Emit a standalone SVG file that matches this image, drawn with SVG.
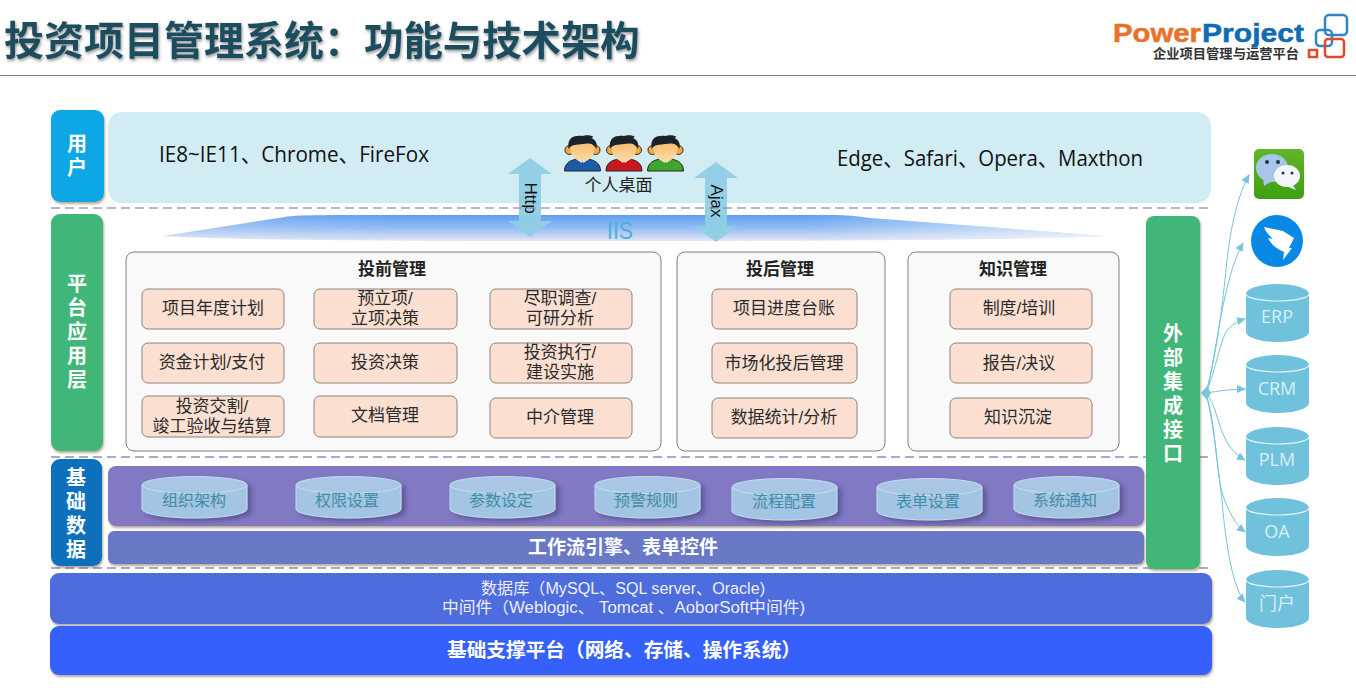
<svg xmlns="http://www.w3.org/2000/svg" width="1356" height="691" viewBox="0 0 1356 691">
<style>
text{font-family:"Liberation Sans","Noto Sans CJK SC",sans-serif}
.lat{font-family:"Open Sans","Noto Sans CJK SC",sans-serif}
.c{text-anchor:middle}
.side{fill:#fff;font-weight:700;font-size:20px;text-anchor:middle}
.box{fill:#fbe0d2;stroke:#8d827c;stroke-width:1}
.bt{font-size:17px;fill:#2a2a2a;text-anchor:middle}
.panel{fill:#f9f9f9;stroke:#7f7f7f;stroke-width:1}
.pt{font-size:17px;font-weight:700;fill:#222;text-anchor:middle}
.cy{font-size:16px;fill:#3f8da8;text-anchor:middle}
.ext{font-size:18px;fill:#d8eff6;text-anchor:middle;font-family:"Open Sans","Noto Sans CJK SC",sans-serif}
.dash{stroke:#8f8fb8;stroke-width:1.6;stroke-dasharray:9 5;fill:none}
.conn{stroke:#75c5dc;stroke-width:1;fill:none;marker-end:url(#ah)}
</style>
<defs>
<marker id="ah" markerWidth="10" markerHeight="10" refX="8" refY="4" orient="auto" markerUnits="userSpaceOnUse"><path d="M0 0L9 4L0 8Z" fill="#75c5dc"/></marker>
<linearGradient id="iis" x1="0" y1="0" x2="0" y2="1"><stop offset="0" stop-color="#5f9ff0"/><stop offset=".5" stop-color="#92bcf2"/><stop offset="1" stop-color="#e3e4f5"/></linearGradient>
<linearGradient id="iisfade" x1="0" y1="0" x2="1" y2="0"><stop offset="0" stop-color="#fff" stop-opacity=".2"/><stop offset=".25" stop-color="#fff" stop-opacity="0"/><stop offset=".68" stop-color="#fff" stop-opacity="0"/><stop offset="1" stop-color="#fff" stop-opacity=".65"/></linearGradient>
<linearGradient id="wg" x1="0" y1="0" x2="0" y2="1"><stop offset="0" stop-color="#62b52a"/><stop offset="1" stop-color="#3f9f12"/></linearGradient>
<linearGradient id="face" x1="0" y1="0" x2="0" y2="1"><stop offset="0" stop-color="#f5b45e"/><stop offset="1" stop-color="#fbdca8"/></linearGradient>
<filter id="sh" x="-10%" y="-10%" width="120%" height="130%"><feDropShadow dx="1" dy="2" stdDeviation="1.2" flood-color="#6b5436" flood-opacity=".5"/></filter>
<filter id="cs" x="-10%" y="-20%" width="125%" height="150%"><feDropShadow dx="4" dy="3" stdDeviation="2.5" flood-color="#3f3a70" flood-opacity=".55"/></filter>
<filter id="ts" x="-5%" y="-10%" width="110%" height="130%"><feDropShadow dx="1" dy="2" stdDeviation="1.5" flood-color="#333" flood-opacity=".5"/></filter>
<g id="small"><path d="M0 9V33A52.500 9 0 0 0 105 33V9Z" fill="#a3c4e2" stroke="#c5dcf0" stroke-width="1"/><ellipse cx="52.500" cy="9" rx="52.500" ry="8.500" fill="#a9c7e4" stroke="#c5dcf0" stroke-width="1"/></g>
<g id="big"><path d="M0 10V48A31.500 10 0 0 0 63 48V10Z" fill="#70c2dc"/><ellipse cx="31.500" cy="10" rx="31.500" ry="10" fill="#70c2dc"/><path d="M0 10A31.500 7 0 0 0 63 10" fill="none" stroke="#e4f4f9" stroke-width="1.200"/></g>
<g id="person"><path d="M-18 35C-18 27 -12 24 -5 23H5C12 24 18 27 18 35Z" fill="currentColor" stroke="#222" stroke-width="1"/><path d="M-6 23L-1 27L0 25L1 27L6 23L0 21Z" fill="#eee"/><circle cx="-13" cy="14" r="4.500" fill="#f0a848" stroke="#3a2a10" stroke-width="1"/><circle cx="13" cy="14" r="4.500" fill="#f0a848" stroke="#3a2a10" stroke-width="1"/><ellipse cx="0" cy="13" rx="12" ry="12.500" fill="url(#face)"/><path d="M-14 13C-16 0 -6 -1 0 0C3 -1 9 -1 11 1L9 2C14 4 15 9 14 13C11 7 6 7 0 8C-6 9 -11 8 -14 13Z" fill="#1c2228"/></g>
</defs>

<g id="header">
<text x="4" y="55" font-size="40" font-weight="700" fill="#1f4e5f" filter="url(#ts)">投资项目管理系统：<tspan x="364" font-size="39.400">功能与技术架构</tspan></text>
<line x1="0" y1="75.500" x2="1356" y2="75.500" stroke="#808080" stroke-width="1"/>
</g>
<g id="logo">
<text x="1113" y="42" font-size="26" font-weight="700" fill="#e8722a" stroke="#e8722a" stroke-width=".5" textLength="88" lengthAdjust="spacingAndGlyphs">Power</text>
<text x="1202" y="42" font-size="26" font-weight="700" fill="#0f6cb2" stroke="#0f6cb2" stroke-width=".5" textLength="102" lengthAdjust="spacingAndGlyphs">Project</text>
<text x="1153" y="58" font-size="13" font-weight="700" fill="#333" textLength="146" lengthAdjust="spacingAndGlyphs">企业项目管理与运营平台</text>
<g fill="none" stroke-width="2.500"><rect x="1325" y="15" width="22" height="20" rx="4" stroke="#2f85c5"/><rect x="1316" y="30" width="16" height="16" rx="4" stroke="#2f85c5"/><rect x="1325" y="39" width="19" height="18" rx="3" stroke="#e1492c"/><rect x="1309" y="50" width="8" height="7" stroke="#e1492c"/></g>
</g>

<g id="layer-user">
<rect x="108" y="112" width="1103" height="91" rx="14" fill="#d2ecf4"/>
<rect x="51" y="110" width="53" height="92" rx="9" fill="#0ea7e6" filter="url(#sh)"/>
<text class="side"><tspan x="77" y="151">用</tspan><tspan x="77" y="175">户</tspan></text>
<text x="159" y="162" font-size="22" class="lat" fill="#111" textLength="270" lengthAdjust="spacingAndGlyphs">IE8~IE11、Chrome、FireFox</text>
<text x="837" y="166" font-size="22" class="lat" fill="#111" textLength="306" lengthAdjust="spacingAndGlyphs">Edge、Safari、Opera、Maxthon</text>
</g>
<g id="users" transform="translate(0,136)">
<use href="#person" x="582.500" color="#1d5aa8"/><use href="#person" x="624" color="#c8181e"/><use href="#person" x="665.500" color="#3fa52c"/>
</g>
<text x="618.500" y="191" font-size="17" fill="#222" class="c" id="desk-label">个人桌面</text>

<g id="iis-band">
<path d="M163 236L285 217Q292 215 340 215H835Q850 215 870 218L1106 236Q1000 241 620 241Q240 241 163 236Z" fill="url(#iis)"/>
<path d="M163 236L285 217Q292 215 340 215H835Q850 215 870 218L1106 236Q1000 241 620 241Q240 241 163 236Z" fill="url(#iisfade)"/>
<text x="607" y="239" font-size="24" fill="#4ab0d8" textLength="26" lengthAdjust="spacingAndGlyphs">IIS</text>
</g>
<g id="arrow-http">
<path d="M530 158L552 174H541V221H552L530 237L508 221H519V174H508Z" fill="#90cde4" fill-opacity=".95"/>
<text transform="translate(525,198) rotate(90)" font-size="17" class="c" fill="#111">Http</text>
</g>
<g id="arrow-ajax">
<path d="M716 162L738 178H727V226H738L716 242L694 226H705V178H694Z" fill="#90cde4" fill-opacity=".95"/>
<text transform="translate(711,201) rotate(90)" font-size="17" class="c" fill="#111">Ajax</text>
</g>
<g id="separators">
<line class="dash" x1="51" y1="208" x2="1210" y2="208" opacity=".85"/>
<line class="dash" x1="51" y1="457" x2="1210" y2="457"/>
<line class="dash" x1="51" y1="568" x2="1210" y2="568"/>
</g>

<g id="layer-platform">
<rect x="51" y="214" width="52" height="237" rx="9" fill="#41b679" filter="url(#sh)"/>
<text class="side"><tspan x="77" y="291">平</tspan><tspan x="77" y="315">台</tspan><tspan x="77" y="339">应</tspan><tspan x="77" y="363">用</tspan><tspan x="77" y="387">层</tspan></text>
</g>
<g id="panel-pre">
<rect class="panel" x="126" y="252" width="535" height="199" rx="8"/>
<text class="pt" x="392" y="275">投前管理</text>
<rect class="box" x="142" y="289" width="142" height="40" rx="6"/><text class="bt" x="213" y="314">项目年度计划</text>
<rect class="box" x="314" y="289" width="143" height="40" rx="6"/><text class="bt" x="385" y="304">预立项/</text><text class="bt" x="385" y="324">立项决策</text>
<rect class="box" x="490" y="289" width="142" height="40" rx="6"/><text class="bt" x="560" y="304">尽职调查/</text><text class="bt" x="560" y="324">可研分析</text>
<rect class="box" x="142" y="343" width="142" height="40" rx="6"/><text class="bt" x="212" y="368">资金计划/支付</text>
<rect class="box" x="314" y="343" width="143" height="40" rx="6"/><text class="bt" x="385" y="368">投资决策</text>
<rect class="box" x="490" y="343" width="142" height="40" rx="6"/><text class="bt" x="560" y="358">投资执行/</text><text class="bt" x="560" y="378">建设实施</text>
<rect class="box" x="142" y="396" width="142" height="41" rx="6"/><text class="bt" x="212" y="412">投资交割/</text><text class="bt" x="212" y="432">竣工验收与结算</text>
<rect class="box" x="314" y="396" width="143" height="41" rx="6"/><text class="bt" x="385" y="421">文档管理</text>
<rect class="box" x="490" y="398" width="142" height="40" rx="6"/><text class="bt" x="560" y="423">中介管理</text>
</g>
<g id="panel-post">
<rect class="panel" x="677" y="252" width="208" height="199" rx="8"/>
<text class="pt" x="780" y="275">投后管理</text>
<rect class="box" x="712" y="289" width="145" height="40" rx="6"/><text class="bt" x="784" y="314">项目进度台账</text>
<rect class="box" x="712" y="343" width="145" height="40" rx="6"/><text class="bt" x="784" y="369">市场化投后管理</text>
<rect class="box" x="712" y="398" width="145" height="40" rx="6"/><text class="bt" x="784" y="423">数据统计/分析</text>
</g>
<g id="panel-know">
<rect class="panel" x="908" y="252" width="211" height="199" rx="8"/>
<text class="pt" x="1013" y="275">知识管理</text>
<rect class="box" x="950" y="289" width="142" height="40" rx="6"/><text class="bt" x="1019" y="314">制度/培训</text>
<rect class="box" x="950" y="343" width="142" height="40" rx="6"/><text class="bt" x="1019" y="369">报告/决议</text>
<rect class="box" x="950" y="398" width="142" height="40" rx="6"/><text class="bt" x="1018" y="423">知识沉淀</text>
</g>

<g id="layer-data">
<rect x="51" y="459" width="51" height="107" rx="9" fill="#0b70bd" filter="url(#sh)"/>
<text class="side"><tspan x="76" y="485">基</tspan><tspan x="76" y="509">础</tspan><tspan x="76" y="533">数</tspan><tspan x="76" y="557">据</tspan></text>
<rect x="108" y="466" width="1036" height="60" rx="8" fill="#8279c4" filter="url(#sh)"/>
<rect x="108" y="531" width="1036" height="33" rx="6" fill="#6b79c5" filter="url(#sh)"/>
<text x="623" y="554" font-size="19" font-weight="700" fill="#fff" class="c">工作流引擎、表单控件</text>
</g>
<g id="data-items">
<use href="#small" x="142" y="476" filter="url(#cs)"/><text class="cy" x="194" y="506">组织架构</text>
<use href="#small" x="296" y="476" filter="url(#cs)"/><text class="cy" x="347" y="506">权限设置</text>
<use href="#small" x="450" y="476" filter="url(#cs)"/><text class="cy" x="501" y="506">参数设定</text>
<use href="#small" x="595" y="476" filter="url(#cs)"/><text class="cy" x="646" y="506">预警规则</text>
<use href="#small" x="732" y="478" filter="url(#cs)"/><text class="cy" x="784" y="507">流程配置</text>
<use href="#small" x="877" y="478" filter="url(#cs)"/><text class="cy" x="928" y="507">表单设置</text>
<use href="#small" x="1014" y="476" filter="url(#cs)"/><text class="cy" x="1065" y="506">系统通知</text>
</g>

<g id="layer-middleware">
<rect x="50" y="573" width="1162" height="51" rx="9" fill="#4e6cdd" filter="url(#sh)"/>
<text x="481" y="594" font-size="16" fill="#eef" textLength="284" lengthAdjust="spacingAndGlyphs">数据库（MySQL、SQL server、Oracle)</text>
<text x="442" y="613" font-size="16" fill="#eef" textLength="363" lengthAdjust="spacingAndGlyphs">中间件（Weblogic、 Tomcat 、AoborSoft中间件)</text>
</g>
<g id="layer-base">
<rect x="50" y="626" width="1162" height="49" rx="9" fill="#3461fb" filter="url(#sh)"/>
<text x="447" y="657" font-size="19.500" font-weight="700" fill="#fff" textLength="354" lengthAdjust="spacingAndGlyphs">基础支撑平台（网络、存储、操作系统）</text>
</g>

<g id="layer-external">
<rect x="1146" y="216" width="54" height="353" rx="8" fill="#41b679" filter="url(#sh)"/>
<text class="side"><tspan x="1173" y="341">外</tspan><tspan x="1173" y="365">部</tspan><tspan x="1173" y="389">集</tspan><tspan x="1173" y="413">成</tspan><tspan x="1173" y="437">接</tspan><tspan x="1173" y="461">口</tspan></text>
</g>

<g id="connectors">
<path class="conn" d="M1206 393C1218 350 1224 290 1227 260C1231 225 1238 195 1249 175"/>
<path class="conn" d="M1206 393C1216 360 1222 280 1243 243"/>
<path class="conn" d="M1206 393C1214 375 1220 343 1226 332C1231 325 1238 321 1245 319"/>
<path class="conn" d="M1206 393C1218 391 1232 389 1245 389"/>
<path class="conn" d="M1206 393C1216 405 1218 425 1224 436C1230 450 1238 456 1245 460"/>
<path class="conn" d="M1206 393C1216 425 1216 470 1222 492C1227 510 1236 525 1245 532"/>
<path class="conn" d="M1206 393C1214 425 1218 470 1222 500C1226 550 1234 590 1245 602"/>
<path d="M1201 393L1207 386L1211 393L1207 400Z" fill="#75c5dc"/>
</g>

<g id="wechat">
<rect x="1254" y="149" width="50" height="50" rx="5" fill="url(#wg)"/>
<ellipse cx="1272" cy="168" rx="16" ry="14" fill="#a9c5ea"/>
<path d="M1263 178L1264 186L1272 181Z" fill="#a9c5ea"/>
<ellipse cx="1287" cy="176" rx="13" ry="11" fill="#f4f6fb"/>
<path d="M1292 184L1296 190L1286 186Z" fill="#f4f6fb"/>
<circle cx="1267" cy="162" r="2" fill="#234"/><circle cx="1278" cy="162" r="2" fill="#234"/><circle cx="1283" cy="173" r="1.500" fill="#234"/><circle cx="1292" cy="173" r="1.500" fill="#234"/>
</g>
<g id="dingtalk">
<circle cx="1277" cy="241" r="26" fill="#0a88e6"/>
<path d="M1264 227L1283 231L1294 238L1289 248L1292 248L1283 260L1284 252Q1272 247 1268 238L1273 239Q1266 233 1264 227Z" fill="#fff"/>
</g>
<g id="sys-erp"><use href="#big" x="1246" y="284"/><text class="ext" x="1277" y="323">ERP</text></g>
<g id="sys-crm"><use href="#big" x="1246" y="355"/><text class="ext" x="1277" y="395">CRM</text></g>
<g id="sys-plm"><use href="#big" x="1246" y="427"/><text class="ext" x="1277" y="466">PLM</text></g>
<g id="sys-oa"><use href="#big" x="1246" y="498"/><text class="ext" x="1277" y="538">OA</text></g>
<g id="sys-portal"><use href="#big" x="1246" y="570"/><text class="ext" x="1277" y="610">门户</text></g>
</svg>
